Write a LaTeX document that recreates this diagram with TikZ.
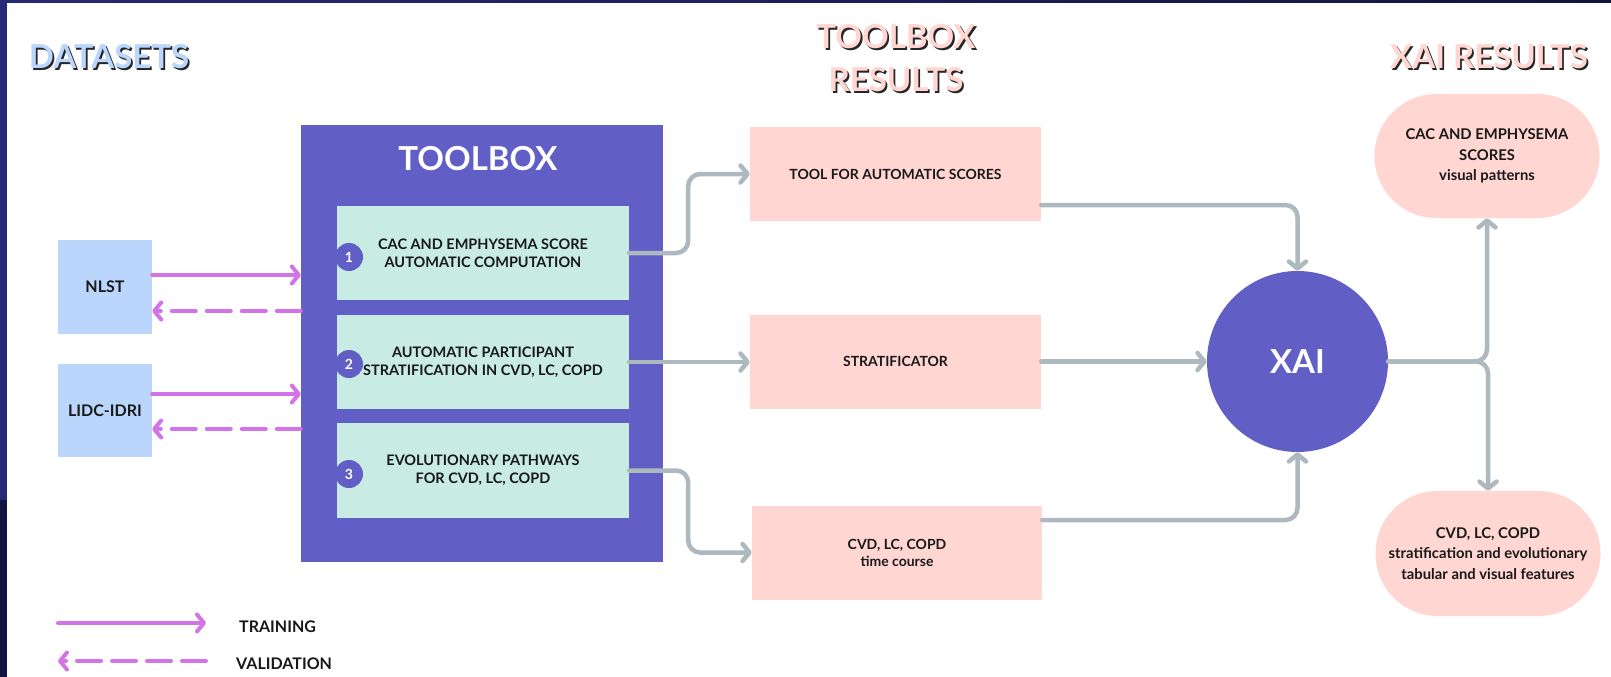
\documentclass[tikz,border=0pt]{standalone}
\usepackage{fontspec}
\setmainfont{Lato}
\usetikzlibrary{arrows.meta,calc}
\definecolor{tbpurple}{RGB}{97,94,198}
\definecolor{mint}{RGB}{200,236,228}
\definecolor{dsblue}{RGB}{186,214,252}
\definecolor{rpink}{RGB}{255,214,210}
\definecolor{cgray}{RGB}{173,185,191}
\definecolor{magen}{RGB}{210,115,232}
\definecolor{navyA}{RGB}{38,42,116}
\definecolor{navyB}{RGB}{20,20,64}
\definecolor{txt}{RGB}{25,25,25}
\tikzset{
  heading/.style={font=\fontsize{33}{43}\selectfont\bfseries, align=center, inner sep=0pt},
  hshadow/.style={heading, text=black!85},
  dsbox/.style={fill=dsblue, minimum width=94pt, minimum height=94pt, inner sep=0pt, font=\fontsize{16}{20}\selectfont\bfseries, text=txt},
  stepbox/.style={fill=mint, minimum width=292pt, minimum height=94pt, inner sep=0pt, align=center, font=\fontsize{14.5}{18}\selectfont\bfseries, text=txt},
  resbox/.style={fill=rpink, minimum width=291pt, minimum height=94pt, inner sep=0pt, align=center, font=\fontsize{14}{17}\selectfont\bfseries, text=txt},
  outbox/.style={fill=rpink, rounded corners=62pt, minimum width=225pt, minimum height=124pt, inner sep=0pt, align=center, font=\fontsize{14.8}{20.5}\selectfont\bfseries, text=txt},
  numc/.style={circle, fill=tbpurple, minimum size=28pt, inner sep=0pt, text=white, font=\fontsize{14}{14}\selectfont\bfseries},
  train/.style={draw=magen, line width=4pt, line cap=round, -{Straight Barb[length=7pt,width=17pt,round]}},
  valid/.style={draw=magen, line width=4pt, line cap=round, dash pattern=on 24pt off 11pt, -{Straight Barb[length=7pt,width=17pt,round]}},
  conn/.style={draw=cgray, line width=4.5pt, line cap=round, rounded corners=12pt, -{Straight Barb[length=7pt,width=17pt,round]}},
  legtext/.style={anchor=west, inner sep=0pt, font=\fontsize{16}{16}\selectfont\bfseries, text=txt}
}
\begin{document}
\begin{tikzpicture}[x=1pt,y=-1pt]
\useasboundingbox (0,0) rectangle (1611,677);
\fill[white] (0,0) rectangle (1611,677);
% frame
\shade[left color=navyA, right color=navyB] (0,0) rectangle (1611,3);
\fill[navyA] (0,0) rectangle (7,500);
\fill[navyB] (0,500) rectangle (7,677);

% headings
\node[hshadow] (hdatas) at (110.8,58.8) {DATASETS};
\node[heading, text=dsblue] (hdata) at (109,57) {DATASETS};
\node[hshadow] (htbrs) at (897.8,59.8) {TOOLBOX\\RESULTS};
\node[heading, text=rpink] (htbr) at (896,58) {TOOLBOX\\RESULTS};
\node[hshadow] (hxais) at (1490.8,58.8) {XAI RESULTS};
\node[heading, text=rpink] (hxai) at (1489,57) {XAI RESULTS};

% datasets
\node[dsbox] (nlst) at (105,286.5) {NLST};
\node[dsbox, minimum height=93pt] (lidc) at (105,410.5) {LIDC-IDRI};

% toolbox
\node[fill=tbpurple, minimum width=362pt, minimum height=437pt, inner sep=0pt] (toolbox) at (482,343.5) {};
\node[text=white, font=\fontsize{33}{33}\selectfont\bfseries, inner sep=0pt] (tbtitle) at (478,159) {TOOLBOX};
\node[stepbox] (s1) at (483,253) {CAC AND EMPHYSEMA SCORE\\AUTOMATIC COMPUTATION};
\node[stepbox] (s2) at (483,362) {AUTOMATIC PARTICIPANT\\STRATIFICATION IN CVD, LC, COPD};
\node[stepbox, minimum height=95pt] (s3) at (483,470.5) {EVOLUTIONARY PATHWAYS\\FOR CVD, LC, COPD};
\node[numc] (n1) at (349,257) {1};
\node[numc] (n2) at (349,364) {2};
\node[numc] (n3) at (349,474) {3};

% training / validation arrows
\draw[train] ([yshift=11.5pt]nlst.east) -- ([yshift=11.5pt]nlst.east -| toolbox.west);
\draw[valid] ([yshift=-24.5pt]nlst.east -| toolbox.west) -- ([yshift=-24.5pt]nlst.east);
\draw[train] ([yshift=16.5pt]lidc.east) -- ([yshift=16.5pt]lidc.east -| toolbox.west);
\draw[valid] ([yshift=-18.5pt]lidc.east -| toolbox.west) -- ([yshift=-18.5pt]lidc.east);

% toolbox results
\node[resbox] (ra) at (895.5,174) {TOOL FOR AUTOMATIC SCORES};
\node[resbox] (rb) at (895.5,361.5) {STRATIFICATOR};
\node[resbox, minimum width=290pt] (rc) at (897,552.5) {CVD, LC, COPD\\time course};

\draw[conn] (s1.east) -- ++(59,0) |- (ra.west);
\draw[conn] (s2.east) -- (s2.east -| rb.west);
\draw[conn] (s3.east) -- ++(59,0) |- (rc.west);

% XAI
\node[circle, fill=tbpurple, minimum size=181pt, inner sep=0pt, text=white, font=\fontsize{33}{33}\selectfont\bfseries] (xai) at (1297.5,361.5) {XAI};
\draw[conn] ([yshift=-31pt]ra.east) -| (xai.north);
\draw[conn] (rb.east) -- (rb.east -| xai.west);
\draw[conn] ([yshift=32.5pt]rc.east) -| (xai.south);

% XAI results
\node[outbox] (o1) at (1487,156) {CAC AND EMPHYSEMA\\SCORES\\visual patterns};
\node[outbox, minimum height=125pt] (o2) at (1488,553.5) {CVD, LC, COPD\\stratification and evolutionary\\tabular and visual features};
\draw[conn] (xai.east) -| (o1.south);
\draw[conn] (xai.east) -| (o2.north);

% legend
\coordinate (lta) at (58,623);
\coordinate (ltb) at (206,623);
\coordinate (lva) at (206,661);
\coordinate (lvb) at (58,661);
\draw[train] (lta) -- (ltb);
\draw[valid] (lva) -- (lvb);
\node[legtext] (ltrain) at (239,626.5) {TRAINING};
\node[legtext] (lvalid) at (236,663.5) {VALIDATION};
\end{tikzpicture}
\end{document}
